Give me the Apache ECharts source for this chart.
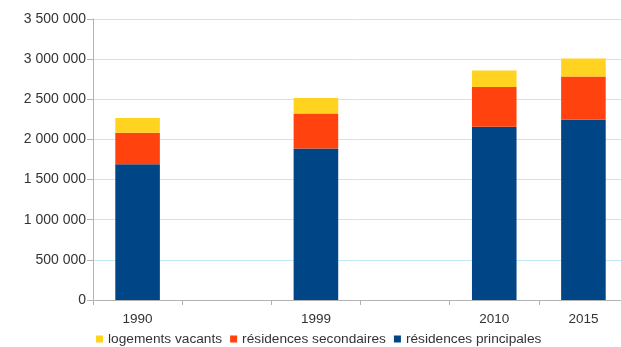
<!DOCTYPE html>
<html>
<head>
<meta charset="utf-8">
<script src="https://cdn.jsdelivr.net/npm/echarts@6/dist/echarts.min.js"></script>
<style>
  html, body { margin: 0; padding: 0; background: #fff; }
  #chart { width: 621px; height: 347px; }
</style>
</head>
<body>
<div id="chart"></div>
<script>
// years on the axis, the two blank slots are empty categories
const years = ['1990', '', '1999', ' ', '2010', '2015']
const principales = [1690000, null, 1888000, null, 2158000, 2246000]
const secondaires = [394000, null, 436000, null, 495000, 539000]
const vacants = [183000, null, 192000, null, 207000, 224000]
const yTicks = [0, 500000, 1000000, 1500000, 2000000, 2500000, 3000000, 3500000]

const chart = echarts.init(document.getElementById('chart'))

// 3500000 -> "3 500 000"
const fmt = v => String(v).replace(/\B(?=(\d{3})+(?!\d))/g, ' ')

const font = 'Liberation Sans'

chart.setOption({
  animation: false,
  grid: {
    left: 93,
    right: -7,
    top: 19,
    bottom: 47,
    outerBoundsMode: 'none'
  },
  legend: {
    data: ['logements vacants', 'résidences secondaires', 'résidences principales'],
    left: 91,
    top: 327,
    icon: 'rect',
    itemWidth: 7,
    itemHeight: 7,
    itemGap: 8,
    textStyle: { fontFamily: font, fontSize: 13.7, color: '#333' }
  },
  xAxis: {
    type: 'category',
    data: years,
    axisLine: { lineStyle: { color: '#b3b3b3' } },
    axisTick: { show: true, length: 5, lineStyle: { color: '#b3b3b3' } },
    axisLabel: { fontFamily: font, fontSize: 13.5, color: '#333', margin: 12 }
  },
  yAxis: {
    type: 'value',
    min: yTicks[0],
    max: yTicks[yTicks.length - 1],
    interval: 500000,
    axisLine: { show: true, lineStyle: { color: '#b3b3b3' } },
    axisTick: { show: true, length: 6, lineStyle: { color: '#b3b3b3' } },
    axisLabel: {
      fontFamily: font,
      fontSize: 14,
      color: '#333',
      margin: 7,
      formatter: fmt
    },
    splitLine: { lineStyle: { color: '#bfe9f7' } }
  },
  series: [
    {
      name: 'résidences principales',
      type: 'bar',
      stack: 'total',
      barWidth: '50%',
      itemStyle: { color: '#004586' },
      data: principales
    },
    {
      name: 'résidences secondaires',
      type: 'bar',
      stack: 'total',
      itemStyle: { color: '#ff420e' },
      data: secondaires
    },
    {
      name: 'logements vacants',
      type: 'bar',
      stack: 'total',
      itemStyle: { color: '#ffd320' },
      data: vacants
    }
  ]
})
</script>
</body>
</html>
